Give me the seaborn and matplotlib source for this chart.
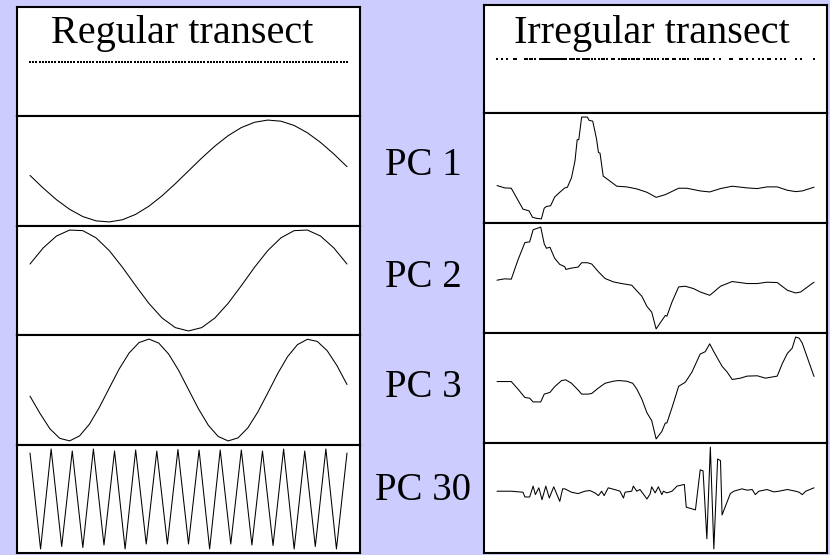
import numpy as np
import matplotlib
matplotlib.use("Agg")
import matplotlib.pyplot as plt
import seaborn as sns

sns.set_style("white")
plt.rcParams['font.family'] = ['Liberation Serif', 'DejaVu Serif']
plt.rcParams['text.color'] = 'black'

# ---------------- data ----------------
titles = ["Regular transect", "Irregular transect"]
pc_labels = ["PC 1", "PC 2", "PC 3", "PC 30"]

# regular transect: sample index positions
regular_positions = np.arange(0, 101)

# irregular transect sample positions (0-100 along transect)
irregular_positions = [0.0, 1.7, 3.3, 5.4, 6.1, 8.8, 9.5, 10.3, 11.1, 11.9, 13.5, 14.1, 14.8, 15.4,
                       16.0, 16.7, 17.3, 17.9, 18.6, 19.2, 19.8, 20.5, 21.1, 21.7, 23.0, 23.6, 24.3,
                       25.1, 25.8, 27.2, 27.8, 28.5, 29.1, 29.9, 30.9, 32.3, 33.0, 33.8, 34.6, 36.2,
                       36.9, 38.6, 39.3, 40.1, 40.7, 41.5, 42.5, 43.2, 44.1, 44.8, 46.4, 47.3, 48.1,
                       48.9, 49.9, 50.7, 52.3, 53.2, 53.9, 55.5, 56.3, 57.8, 58.6, 59.4, 60.2, 62.6,
                       63.3, 64.1, 65.0, 65.8, 66.7, 68.4, 70.3, 73.4, 74.2, 76.6, 77.4, 78.9, 80.8,
                       82.6, 84.0, 85.4, 86.1, 87.9, 89.5, 91.0, 94.2, 95.8, 100.0]

# regular transect PCs
reg_pc1 = [-0.087, -0.335, -0.562, -0.752, -0.894, -0.978, -0.999, -0.956, -0.851, -0.691,
           -0.486, -0.250, 0.002, 0.254, 0.489, 0.693, 0.852, 0.956, 0.999, 0.977, 0.893,
           0.750, 0.560, 0.334, 0.085]
reg_pc2 = [0.319, 0.637, 0.870, 0.989, 0.977, 0.835, 0.584, 0.255, -0.108, -0.456, -0.744,
           -0.934, -1.000, -0.934, -0.744, -0.456, -0.108, 0.255, 0.584, 0.835, 0.977, 0.989,
           0.870, 0.637, 0.319]
reg_pc3 = [-0.120, -0.456, -0.758, -0.948, -0.998, -0.901, -0.670, -0.341, 0.038, 0.412,
           0.725, 0.931, 1.000, 0.921, 0.705, 0.387, 0.010, -0.367, -0.691, -0.912, -0.999,
           -0.939, -0.740, -0.431, -0.059, 0.321, 0.655, 0.891, 0.996, 0.954, 0.772, 0.475,
           0.108]
reg_pc30 = [0.93, -1.00, 1.01, -0.95, 0.97, -0.97, 1.01, -0.92, 0.97, -1.00, 0.99, -0.90,
            0.97, -0.90, 1.00, -0.90, 0.99, -1.00, 0.99, -0.90, 0.99, -0.92, 0.97, -0.93,
            1.01, -1.00, 0.97, -0.95, 1.01, -1.00, 0.93]

# irregular transect PCs (x along transect, value)
irr_pc1_x = [0.0, 2.4, 4.5, 8.2, 10.1, 11.2, 12.4, 14.0, 14.9, 15.6, 16.9, 18.2, 19.8, 21.4,
             22.2, 23.5, 24.6, 25.3, 25.8, 26.7, 28.5, 29.1, 30.2, 31.4, 32.0, 32.5, 33.5,
             37.8, 40.9, 44.1, 47.3, 50.2, 53.1, 57.3, 59.9, 64.1, 67.1, 70.5, 74.2, 78.9,
             82.1, 85.2, 88.4, 91.6, 94.2, 96.3, 100.0]
irr_pc1_y = [0.02, -0.05, -0.06, -0.68, -0.73, -0.92, -0.95, -0.97, -0.65, -0.60, -0.58,
             -0.32, -0.18, -0.05, -0.03, 0.25, 0.75, 1.38, 1.38, 2.05, 2.05, 1.95, 1.93, 1.40,
             1.00, 0.98, 0.30, 0.00, -0.02, -0.08, -0.18, -0.33, -0.25, -0.06, -0.06, -0.14,
             -0.17, -0.07, 0.00, -0.05, -0.07, -0.02, -0.02, -0.12, -0.16, -0.14, -0.03]

irr_pc2_x = [0.0, 2.4, 4.5, 6.6, 8.8, 10.3, 11.4, 13.8, 14.9, 15.6, 16.7, 18.2, 19.8, 21.4,
             21.7, 23.5, 25.6, 26.7, 28.5, 29.9, 32.0, 34.1, 36.7, 39.3, 42.5, 45.7, 47.3,
             48.8, 50.2, 52.0, 53.1, 53.6, 55.2, 57.3, 59.4, 62.0, 64.1, 67.1, 68.4, 70.5,
             74.2, 78.9, 82.1, 85.2, 88.4, 91.6, 94.2, 95.8, 100.0]
irr_pc2_y = [0.00, 0.04, 0.03, 0.60, 1.12, 1.14, 1.50, 1.58, 1.08, 0.95, 0.98, 0.65, 0.47,
             0.40, 0.32, 0.36, 0.39, 0.52, 0.52, 0.48, 0.25, 0.05, -0.05, -0.10, -0.15, -0.48,
             -0.78, -0.95, -1.45, -1.20, -1.05, -1.07, -0.65, -0.20, -0.18, -0.25, -0.35,
             -0.45, -0.35, -0.18, -0.04, -0.10, -0.10, -0.06, -0.07, -0.30, -0.38, -0.35, -0.06]

irr_pc3_x = [0.0, 4.5, 6.6, 8.8, 10.3, 11.4, 13.8, 14.9, 16.7, 18.2, 20.4, 21.7, 23.5, 25.6,
             26.7, 28.8, 29.9, 32.0, 34.1, 36.7, 38.3, 40.9, 42.8, 44.1, 45.7, 47.3, 48.8,
             50.2, 52.0, 53.1, 53.6, 55.2, 57.3, 59.4, 61.5, 64.1, 65.7, 67.1, 68.4, 69.9,
             71.0, 72.6, 74.2, 76.8, 78.9, 82.1, 84.7, 88.4, 90.0, 91.6, 93.1, 94.2, 95.3,
             96.3, 100.0]
irr_pc3_y = [0.00, 0.00, -0.22, -0.47, -0.49, -0.60, -0.60, -0.37, -0.32, -0.15, 0.03, 0.05,
             -0.05, -0.25, -0.37, -0.37, -0.35, -0.19, -0.05, 0.01, 0.03, 0.01, -0.05, -0.22,
             -0.52, -0.92, -1.15, -1.69, -1.47, -1.22, -1.22, -0.77, -0.14, -0.02, 0.28, 0.81,
             0.88, 1.11, 0.88, 0.63, 0.45, 0.28, 0.06, 0.10, 0.16, 0.17, 0.10, 0.16, 0.53,
             0.83, 0.98, 1.31, 1.28, 1.13, 0.15]

irr_pc30_x = [0.0, 4.5, 8.2, 8.8, 10.3, 11.4, 12.1, 13.2, 14.2, 15.4, 16.5, 17.9, 19.8, 20.7,
              21.4, 23.5, 25.6, 27.7, 29.3, 30.9, 32.0, 33.0, 33.8, 35.1, 37.8, 38.8, 39.9,
              40.4, 42.5, 43.0, 44.1, 45.1, 46.7, 47.3, 48.3, 48.8, 49.9, 50.9, 52.0, 52.5,
              53.6, 55.2, 56.8, 59.1, 59.7, 62.6, 64.1, 65.0, 66.2, 67.3, 68.4, 69.6, 70.5,
              71.0, 73.6, 74.7, 77.3, 78.9, 80.5, 81.5, 82.6, 85.2, 87.3, 88.9, 91.6, 94.2,
              95.3, 96.3, 97.4, 100.0]
irr_pc30_y = [0.00, 0.00, -0.03, -0.17, -0.17, 0.15, -0.10, 0.10, -0.25, 0.15, -0.20, 0.13,
              -0.30, 0.07, 0.07, -0.03, -0.07, 0.00, 0.02, -0.05, -0.13, 0.00, -0.13, 0.10,
              0.03, 0.00, -0.20, -0.03, 0.00, 0.15, 0.00, 0.05, -0.15, -0.23, -0.08, 0.13,
              -0.05, 0.13, -0.10, 0.00, -0.05, 0.00, 0.15, 0.20, -0.47, -0.55, 0.63, 0.60,
              -1.40, 1.30, -1.70, 0.95, 0.90, -0.70, -0.07, 0.00, 0.07, 0.03, 0.05, -0.10,
              0.00, 0.05, -0.02, 0.00, 0.05, 0.00, -0.03, -0.10, 0.00, 0.10]

# ---------------- layout ----------------
W, H = 830, 555
BG = '#CCCCFF'
fig = plt.figure(figsize=(W / 100, H / 100), dpi=100, facecolor=BG)

left_cols = (17, 360)
right_cols = (484, 827)
left_rows = [7, 116, 226, 335, 445, 553]
right_rows = [5, 113, 223, 333, 443, 553]


def panel(xr, y0, y1):
    ax = fig.add_axes([xr[0] / W, 1 - y1 / H, (xr[1] - xr[0]) / W, (y1 - y0) / H])
    ax.set_facecolor('white')
    ax.set_xticks([])
    ax.set_yticks([])
    ax.set_xlabel('')
    ax.set_ylabel('')
    for s in ax.spines.values():
        s.set_visible(True)
        s.set_color('black')
        s.set_linewidth(1.5)
    ax.set_xlim(-4.1, 104.1)
    return ax


def curve(ax, x, y):
    sns.lineplot(x=x, y=y, ax=ax, color='black', linewidth=0.75, sort=False,
                 estimator=None, legend=False)
    lo, hi = min(y), max(y)
    m = (hi - lo) * 0.04
    ax.set_ylim(lo - m, hi + m)
    ax.set_xlabel('')
    ax.set_ylabel('')
    ax.set_xticks([])
    ax.set_yticks([])


# title boxes
axL = panel(left_cols, left_rows[0], left_rows[1])
sns.scatterplot(x=regular_positions, y=np.zeros(len(regular_positions)), ax=axL,
                marker='s', s=2.4, color='black', linewidth=0, legend=False)
axL.set_ylim(-1, 1)
axL.set_xticks([]); axL.set_yticks([])
axR = panel(right_cols, right_rows[0], right_rows[1])
sns.scatterplot(x=irregular_positions, y=np.zeros(len(irregular_positions)), ax=axR,
                marker='s', s=2.6, color='black', linewidth=0, legend=False)
axR.set_ylim(-1, 1)
axR.set_xticks([]); axR.set_yticks([])

fig.text(182.5 / W, 1 - 43 / H, titles[0], fontsize=29, ha='center', va='baseline',
         color='black')
fig.text(651.5 / W, 1 - 43 / H, titles[1], fontsize=29, ha='center', va='baseline',
         color='black')

reg_series = [reg_pc1, reg_pc2, reg_pc3, reg_pc30]
irr_series = [(irr_pc1_x, irr_pc1_y), (irr_pc2_x, irr_pc2_y),
              (irr_pc3_x, irr_pc3_y), (irr_pc30_x, irr_pc30_y)]

for i in range(4):
    axl = panel(left_cols, left_rows[i + 1], left_rows[i + 2])
    vals = reg_series[i]
    curve(axl, np.linspace(0, 100, len(vals)), vals)
    axr = panel(right_cols, right_rows[i + 1], right_rows[i + 2])
    curve(axr, irr_series[i][0], irr_series[i][1])

label_baselines = [175, 287, 397, 500]
for lab, yb in zip(pc_labels, label_baselines):
    fig.text(423 / W, 1 - yb / H, lab, fontsize=28, ha='center', va='baseline',
             color='black')

fig.savefig('out.png', dpi=100, facecolor=BG)
